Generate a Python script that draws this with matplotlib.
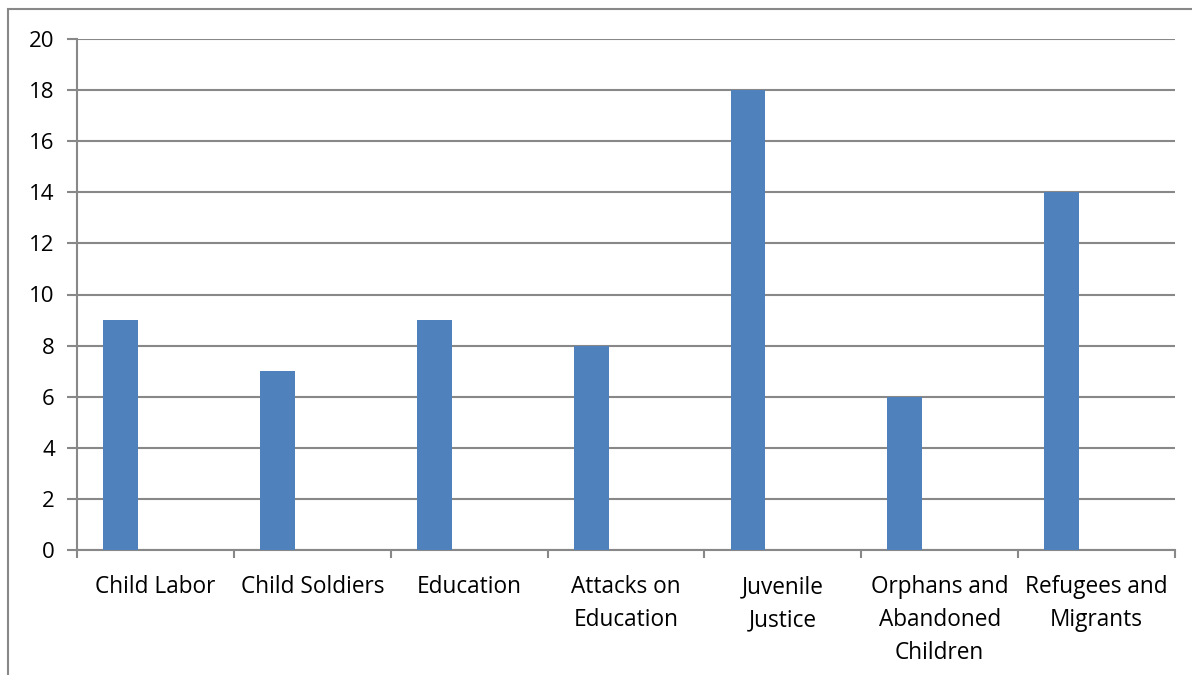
import numpy as np
import matplotlib.pyplot as plt
from matplotlib.patches import Rectangle

# data
categories = ["Child Labor", "Child Soldiers", "Education", "Attacks on\nEducation",
              "Juvenile\nJustice", "Orphans and\nAbandoned\nChildren", "Refugees and\nMigrants"]
values = [9, 7, 9, 8, 18, 6, 14]
y_ticks = [0, 2, 4, 6, 8, 10, 12, 14, 16, 18, 20]

plt.rcParams['font.family'] = ['Open Sans', 'DejaVu Sans']

fig = plt.figure(figsize=(11.92, 6.75), dpi=100)
ax = fig.add_axes([77 / 1192, 1 - 550 / 675, (1175 - 77) / 1192, (550 - 39) / 675])

grid_col = '#888888'
bar_w = 1 / 4.5
x = np.arange(len(categories))
ax.bar(x - bar_w, values, width=bar_w, color='#4f81bd', zorder=3)

ax.set_xlim(-0.5, len(categories) - 0.5)
ax.set_ylim(0, 20)
ax.set_yticks(y_ticks)
ax.yaxis.grid(True, color=grid_col, linewidth=1.5, zorder=0)

# category boundary ticks, labels centred on categories
ax.set_xticks(np.arange(-0.5, len(categories)), minor=False)
ax.set_xticklabels([])
ax.set_xticks(x, minor=True)
ax.set_xticklabels(categories, minor=True, fontsize=16.3, linespacing=1.5)
ax.tick_params(axis='x', which='minor', length=0, pad=18)
ax.tick_params(axis='x', which='major', length=6, width=1.5, color=grid_col, direction='out')
ax.tick_params(axis='y', length=7, width=1.5, color=grid_col, labelsize=16, pad=9)

for s in ['top', 'right']:
    ax.spines[s].set_visible(False)
for s in ['left', 'bottom']:
    ax.spines[s].set_color(grid_col)
    ax.spines[s].set_linewidth(1.5)

# chart area border (cropped at right and bottom)
fig.patches.append(Rectangle((8 / 1192, -0.1), 1.2, 1 - 9 / 675 + 0.1, transform=fig.transFigure,
                             fill=False, edgecolor=grid_col, linewidth=1.5))

fig.savefig('out.png', dpi=100)
